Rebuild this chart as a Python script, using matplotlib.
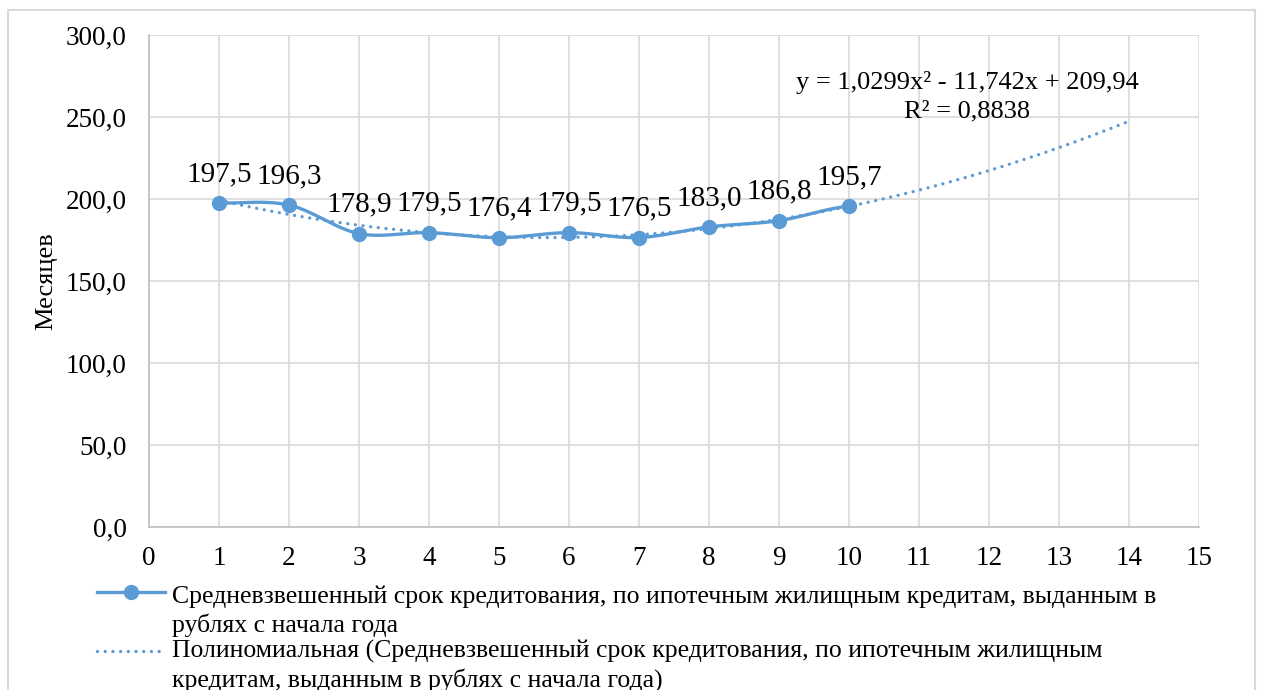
import numpy as np
import matplotlib
matplotlib.use("Agg")
import matplotlib.pyplot as plt
from matplotlib.lines import Line2D
from matplotlib.patches import Rectangle

# ---- data ----
periods = [1, 2, 3, 4, 5, 6, 7, 8, 9, 10]
values = [197.5, 196.3, 178.9, 179.5, 176.4, 179.5, 176.5, 183.0, 186.8, 195.7]
x_ticks = list(range(0, 16))
y_ticks = [0, 50, 100, 150, 200, 250, 300]
series_label = ("Средневзвешенный срок кредитования, по ипотечным жилищным кредитам, выданным в\n"
                "рублях с начала года")
trend_label = ("Полиномиальная (Средневзвешенный срок кредитования, по ипотечным жилищным\n"
               "кредитам, выданным в рублях с начала года)")
y_label = "Месяцев"
equation = "y = 1,0299x² - 11,742x + 209,94\nR² = 0,8838"
forecast_to = 14

BLUE = "#5B9BD5"
GRID = "#D9D9D9"
FONT = "Liberation Serif"
plt.rcParams['font.family'] = [FONT, 'DejaVu Serif']

W, H = 1262, 690
fig = plt.figure(figsize=(W / 100, H / 100), dpi=100)
L, R, T, B = 149, 1199, 35, 527
ax = fig.add_axes([L / W, 1 - B / H, (R - L) / W, (B - T) / H])

# outer chart border
fig.add_artist(Rectangle((8 / W, -0.1), (1255 - 8) / W, 1 - 10 / H + 0.1,
                         transform=fig.transFigure, fill=False,
                         edgecolor=GRID, linewidth=1.5))


def smooth(xs, ys, n=30):
    xs = np.asarray(xs, float)
    ys = np.asarray(ys, float)
    px = np.concatenate([[2 * xs[0] - xs[1]], xs, [2 * xs[-1] - xs[-2]]])
    py = np.concatenate([[ys[0]], ys, [ys[-1]]])
    ox, oy = [], []
    for i in range(1, len(px) - 2):
        t = np.linspace(0, 1, n)
        p0x, p1x, p2x, p3x = px[i - 1:i + 3]
        p0y, p1y, p2y, p3y = py[i - 1:i + 3]
        c1x = p1x + (p2x - p0x) / 6
        c1y = p1y + (p2y - p0y) / 6
        c2x = p2x - (p3x - p1x) / 6
        c2y = p2y - (p3y - p1y) / 6
        bx = (1 - t) ** 3 * p1x + 3 * (1 - t) ** 2 * t * c1x + 3 * (1 - t) * t ** 2 * c2x + t ** 3 * p2x
        by = (1 - t) ** 3 * p1y + 3 * (1 - t) ** 2 * t * c1y + 3 * (1 - t) * t ** 2 * c2y + t ** 3 * p2y
        ox.extend(bx)
        oy.extend(by)
    return np.array(ox), np.array(oy)


DOT = dict(color=BLUE, linestyle=(0, (0.01, 2.3)), linewidth=2.4,
           dash_capstyle='round')

# trend line
coef = np.polyfit(periods, values, 2)
tx = np.linspace(periods[0], forecast_to, 300)
ax.plot(tx, np.polyval(coef, tx), zorder=2, **DOT)

# smoothed series
sx, sy = smooth(periods, values)
ax.plot(sx, sy, color=BLUE, linewidth=2.4, zorder=3, solid_capstyle='round')
ax.plot(periods, values, linestyle='none', marker='o', markersize=10,
        color=BLUE, zorder=4)

for x, v in zip(periods, values):
    ax.annotate(f"{v:.1f}".replace('.', ','), (x, v), xytext=(0, 29),
                textcoords='offset pixels', ha='center', va='center',
                fontsize=21, color='black', zorder=5)

ax.set_xlim(0, 15)
ax.set_ylim(0, 300)
ax.set_xticks(x_ticks)
ax.set_yticks(y_ticks)
ax.set_xticklabels([str(v) for v in x_ticks], fontsize=19.5)
ax.set_yticklabels([f"{v:.1f}".replace('.', ',') for v in y_ticks], fontsize=19.5)
ax.tick_params(axis='y', length=0, pad=16)
ax.tick_params(axis='x', length=0, pad=14)
ax.grid(True, color=GRID, linewidth=1.2)
ax.set_axisbelow(True)
for s in ['top', 'right']:
    ax.spines[s].set_visible(False)
ax.spines['left'].set_color('#BFBFBF')
ax.spines['bottom'].set_color('#BFBFBF')
ax.spines['left'].set_linewidth(1.2)
ax.spines['bottom'].set_linewidth(1.2)

fig.text(46 / W, 1 - 281 / H, y_label, rotation=90, ha='center', va='center',
         fontsize=19)

fig.text(967 / W, 1 - 97 / H, equation, ha='center', va='center', fontsize=19,
         linespacing=1.38)

# manual legend
def fy(p):
    return 1 - p / H

fig.add_artist(Line2D([97 / W, 165 / W], [fy(592), fy(592)], color=BLUE,
                      linewidth=2.4, transform=fig.transFigure))
fig.add_artist(Line2D([131 / W], [fy(592)], color=BLUE, marker='o',
                      markersize=10, transform=fig.transFigure))
fig.add_artist(Line2D([97 / W, 165 / W], [fy(651), fy(651)],
                      transform=fig.transFigure, **DOT))
fig.text(172 / W, fy(611), series_label, ha='left', va='center', fontsize=18.5,
         linespacing=1.32)
fig.text(172 / W, fy(666), trend_label, ha='left', va='center', fontsize=18.5,
         linespacing=1.32)

fig.savefig("out.png", dpi=100)
